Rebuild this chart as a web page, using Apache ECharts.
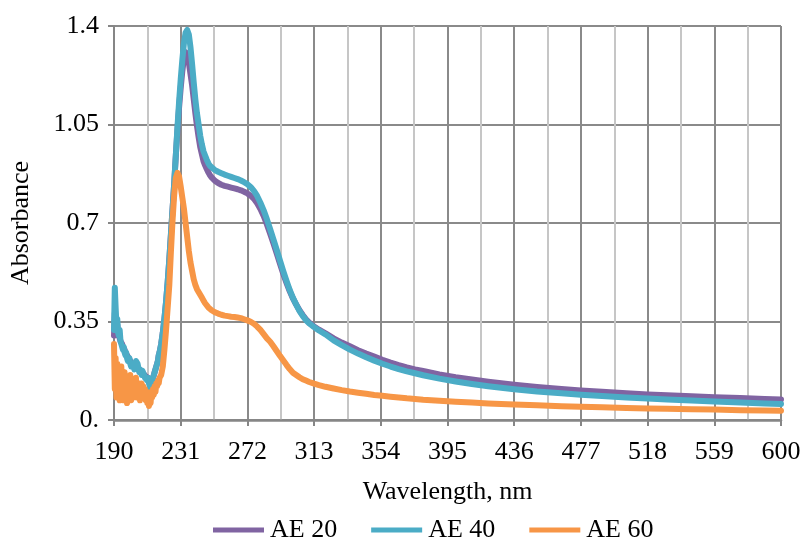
<!DOCTYPE html>
<html>
<head>
<meta charset="utf-8">
<title>Absorbance spectra</title>
<script src="https://cdn.jsdelivr.net/npm/echarts@6/dist/echarts.min.js"></script>
<style>
  html, body { margin: 0; padding: 0; background: #ffffff; }
  #chart { width: 805px; height: 541px; }
</style>
</head>
<body>
<div id="chart"></div>
<script>
// Wavelength grid (nm) shared by all three spectra
const wavelengths = [
  190, 190.5, 191, 191.5, 192, 192.5, 193, 193.5, 194, 194.5,
  195, 195.5, 196, 196.5, 197, 197.5, 198, 198.5, 199, 199.5,
  200, 200.5, 201, 201.5, 202, 202.5, 203, 203.5, 204, 204.5,
  205, 205.5, 206, 206.5, 207, 207.5, 208, 208.5, 209, 209.5,
  210, 210.5, 211, 211.5, 212, 212.5, 213, 213.5, 214, 214.5,
  215, 215.5, 216, 216.5, 217, 217.5, 218,
  219, 220, 221, 222, 223, 224, 225, 226, 227, 228,
  229, 230, 231, 232, 233, 234, 235, 236, 237, 238,
  239, 240, 241, 242, 243, 244, 245, 246, 247, 248, 249, 250,
  252, 254, 256, 258, 260, 262, 264, 266, 268, 270,
  272, 274, 276, 278, 280, 282, 284, 286, 288, 290,
  292, 294, 296, 298, 300, 302, 304, 306, 308, 310,
  313, 316, 320, 325, 330, 335, 340, 345, 350, 355,
  360, 365, 370, 375, 380, 390, 400, 410, 420, 436,
  450, 465, 477, 490, 505, 518, 530, 545, 559, 575, 590, 600
];

const ae20 = [
  0.30, 0.38, 0.35, 0.33, 0.34, 0.31, 0.30, 0.30, 0.28, 0.28,
  0.27, 0.26, 0.26, 0.25, 0.24, 0.24, 0.23, 0.23, 0.22, 0.22,
  0.21, 0.21, 0.20, 0.20, 0.20, 0.19, 0.19, 0.19, 0.19, 0.19,
  0.18, 0.18, 0.18, 0.17, 0.17, 0.17, 0.165, 0.16, 0.16, 0.155,
  0.155, 0.15, 0.15, 0.145, 0.14, 0.13, 0.135, 0.14, 0.15, 0.16,
  0.17, 0.18, 0.19, 0.20, 0.21, 0.23, 0.24,
  0.27, 0.31, 0.36, 0.42, 0.49, 0.57, 0.66, 0.75, 0.84, 0.94,
  1.03, 1.11, 1.18, 1.24, 1.285, 1.307, 1.30, 1.27, 1.23, 1.19,
  1.14, 1.09, 1.045, 1.005, 0.97, 0.945, 0.92, 0.905, 0.892, 0.88, 0.87, 0.862,
  0.85, 0.842, 0.836, 0.832, 0.829, 0.826, 0.823, 0.82, 0.816, 0.811,
  0.805, 0.797, 0.786, 0.77, 0.75, 0.725, 0.695, 0.662, 0.628, 0.592,
  0.556, 0.52, 0.488, 0.458, 0.432, 0.41, 0.39, 0.373, 0.358, 0.346,
  0.332, 0.321, 0.308, 0.29, 0.275, 0.262, 0.248, 0.236, 0.225, 0.214,
  0.204, 0.195, 0.187, 0.18, 0.174, 0.162, 0.152, 0.144, 0.136, 0.125,
  0.117, 0.11, 0.105, 0.1, 0.095, 0.091, 0.088, 0.084, 0.081, 0.078, 0.075, 0.073
];

const ae40 = [
  0.32, 0.47, 0.40, 0.34, 0.36, 0.31, 0.30, 0.32, 0.28, 0.27,
  0.27, 0.25, 0.26, 0.24, 0.23, 0.24, 0.22, 0.21, 0.21, 0.22,
  0.20, 0.19, 0.19, 0.20, 0.20, 0.18, 0.19, 0.21, 0.21, 0.20,
  0.20, 0.17, 0.18, 0.18, 0.16, 0.175, 0.18, 0.16, 0.15, 0.15,
  0.15, 0.14, 0.15, 0.13, 0.12, 0.10, 0.13, 0.14, 0.15, 0.16,
  0.17, 0.18, 0.19, 0.20, 0.21, 0.23, 0.24,
  0.27, 0.31, 0.36, 0.42, 0.49, 0.57, 0.66, 0.75, 0.84, 0.94,
  1.04, 1.13, 1.21, 1.28, 1.34, 1.376, 1.386, 1.37, 1.325, 1.265,
  1.20, 1.14, 1.09, 1.05, 1.01, 0.98, 0.955, 0.94, 0.925, 0.912, 0.903, 0.896,
  0.888, 0.882, 0.877, 0.872, 0.868, 0.864, 0.86, 0.856, 0.851, 0.845,
  0.838, 0.828, 0.814, 0.796, 0.772, 0.745, 0.713, 0.678, 0.642, 0.605,
  0.567, 0.53, 0.495, 0.462, 0.434, 0.41, 0.388, 0.37, 0.355, 0.343,
  0.33, 0.318, 0.304, 0.283, 0.266, 0.25, 0.236, 0.223, 0.211, 0.2,
  0.19, 0.181, 0.173, 0.166, 0.159, 0.147, 0.137, 0.128, 0.12, 0.109,
  0.101, 0.095, 0.09, 0.085, 0.08, 0.076, 0.073, 0.069, 0.066, 0.062, 0.059, 0.057
];

const ae60 = [
  0.27, 0.11, 0.22, 0.08, 0.20, 0.12, 0.18, 0.07, 0.15, 0.19,
  0.09, 0.16, 0.07, 0.17, 0.10, 0.14, 0.06, 0.13, 0.15, 0.08,
  0.16, 0.07, 0.12, 0.14, 0.08, 0.13, 0.10, 0.15, 0.08, 0.12,
  0.09, 0.13, 0.07, 0.11, 0.13, 0.08, 0.12, 0.09, 0.11, 0.07,
  0.10, 0.06, 0.09, 0.05, 0.08, 0.06, 0.10, 0.08, 0.11, 0.09,
  0.12, 0.10, 0.13, 0.12, 0.14, 0.13, 0.15,
  0.16, 0.19, 0.25, 0.32, 0.40, 0.48, 0.60, 0.71, 0.80, 0.86,
  0.878, 0.865, 0.83, 0.79, 0.75, 0.70, 0.65, 0.60, 0.56, 0.53,
  0.50, 0.48, 0.465, 0.455, 0.445, 0.435, 0.425, 0.415, 0.408, 0.40, 0.395, 0.39,
  0.383, 0.378, 0.374, 0.371, 0.369, 0.367, 0.366, 0.364, 0.362, 0.358,
  0.354, 0.349, 0.342, 0.332, 0.32, 0.305, 0.29, 0.278, 0.262, 0.245,
  0.228, 0.212, 0.196, 0.181, 0.168, 0.16, 0.152, 0.145, 0.14, 0.135,
  0.129, 0.124, 0.118, 0.112, 0.106, 0.101, 0.097, 0.093, 0.089, 0.086,
  0.083, 0.08, 0.077, 0.075, 0.072, 0.068, 0.065, 0.062, 0.059, 0.055,
  0.052, 0.049, 0.047, 0.045, 0.043, 0.041, 0.04, 0.038, 0.037, 0.035, 0.034, 0.033
];

const seriesNames = ['AE 20', 'AE 40', 'AE 60'];
const seriesColors = ['#8064A2', '#4BACC6', '#F79646'];
const seriesValues = [ae20, ae40, ae60];

const FONT = '"Liberation Serif", "Times New Roman", serif';
const TEXT_SIZE = 26;

function pairs(values) {
  return wavelengths.map((w, i) => [w, values[i]]);
}

const chart = echarts.init(document.getElementById('chart'), null, { renderer: 'canvas' });

chart.setOption({
  animation: false,
  backgroundColor: '#ffffff',
  textStyle: { fontFamily: FONT, color: '#000000' },
  grid: { left: 113, right: 24, top: 26, bottom: 121, containLabel: false },
  legend: {
    data: seriesNames,
    left: 208,
    top: 512,
    icon: 'rect',
    itemWidth: 51,
    itemHeight: 5,
    itemGap: 34,
    textStyle: { fontFamily: FONT, fontSize: TEXT_SIZE, color: '#000000', padding: [0, 0, 0, 1] }
  },
  xAxis: {
    type: 'value',
    min: 190,
    max: 600,
    interval: 41,
    name: 'Wavelength, nm',
    nameLocation: 'middle',
    nameGap: 59,
    nameTextStyle: { fontFamily: FONT, fontSize: TEXT_SIZE, color: '#000000' },
    axisLine: { show: true, lineStyle: { color: '#868686', width: 2.5 } },
    axisTick: { show: true, length: 6, lineStyle: { color: '#868686', width: 2 } },
    axisLabel: { fontFamily: FONT, fontSize: TEXT_SIZE, color: '#000000', margin: 19 },
    splitLine: { show: true, lineStyle: { color: '#8a8a8a', width: 2 } },
    minorTick: { show: false, splitNumber: 2 },
    minorSplitLine: { show: true, lineStyle: { color: '#c6c6c6', width: 2 } }
  },
  yAxis: {
    type: 'value',
    min: 0,
    max: 1.4,
    interval: 0.35,
    name: 'Absorbance',
    nameLocation: 'middle',
    nameGap: 80,
    nameTextStyle: { fontFamily: FONT, fontSize: TEXT_SIZE, color: '#000000' },
    axisLine: { show: true, lineStyle: { color: '#868686', width: 2 } },
    axisTick: { show: true, length: 6, lineStyle: { color: '#868686', width: 2 } },
    axisLabel: {
      fontFamily: FONT, fontSize: TEXT_SIZE, color: '#000000', margin: 15,
      formatter: v => {
        const r = parseFloat(v.toFixed(2));
        return r === 0 ? '0.' : String(r);
      }
    },
    splitLine: { show: true, lineStyle: { color: '#8a8a8a', width: 2 } }
  },
  series: seriesNames.map((name, i) => ({
    name: name,
    type: 'line',
    data: pairs(seriesValues[i]),
    showSymbol: false,
    symbol: 'none',
    smooth: false,
    color: seriesColors[i],
    lineStyle: { color: seriesColors[i], width: 6, cap: 'round', join: 'round' },
    z: 2 + i
  }))
});
</script>
</body>
</html>
